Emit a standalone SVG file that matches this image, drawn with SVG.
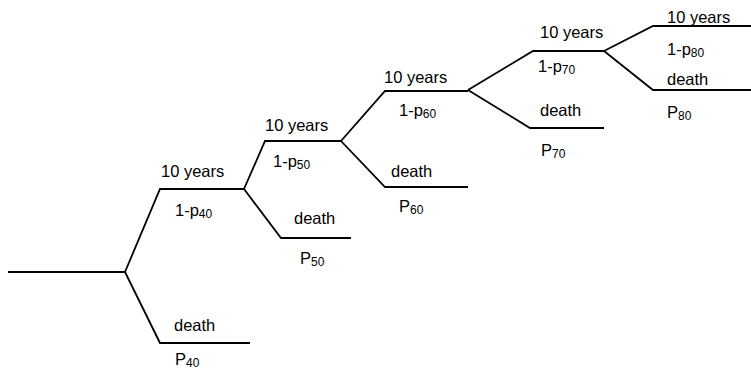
<svg xmlns="http://www.w3.org/2000/svg" width="751" height="372" viewBox="0 0 751 372">
<style>
.c{fill:none;stroke:#000;stroke-width:1.8;stroke-linejoin:miter}
text{font-family:"Liberation Sans",Arial,sans-serif;font-size:16.5px;fill:#000}
.s{font-size:12px}
</style>
<rect width="751" height="372" fill="#fff"/>
<g id="connectors">
<path class="c" d="M8,272 H125"/>
<path class="c" d="M125,272 L160,189 H244"/>
<path class="c" d="M125,272 L160,343 H250"/>
<path class="c" d="M244,189 L265,141 H341"/>
<path class="c" d="M244,189 L281,238 H351"/>
<path class="c" d="M341,141 L385,91 H468"/>
<path class="c" d="M341,141 L385,187 H468"/>
<path class="c" d="M468,90 L533,51 H604"/>
<path class="c" d="M468,90 L530,128 H604"/>
<path class="c" d="M604,51 L653,26 H751"/>
<path class="c" d="M604,51 L653,90 H751"/>
</g>
<g id="n40">
<text x="161" y="177">10 years</text>
<text x="175" y="216">1-p<tspan class="s" dy="2">40</tspan></text>
<text x="174" y="331">death</text>
<text x="175" y="365">P<tspan class="s" dy="1.5">40</tspan></text>
</g>
<g id="n50">
<text x="265" y="131">10 years</text>
<text x="273" y="167">1-p<tspan class="s" dy="2">50</tspan></text>
<text x="294" y="224">death</text>
<text x="300" y="264">P<tspan class="s" dy="2">50</tspan></text>
</g>
<g id="n60">
<text x="384" y="83">10 years</text>
<text x="399" y="116">1-p<tspan class="s" dy="2">60</tspan></text>
<text x="391" y="177">death</text>
<text x="399" y="212">P<tspan class="s" dy="2">60</tspan></text>
</g>
<g id="n70">
<text x="540" y="38">10 years</text>
<text x="538" y="72">1-p<tspan class="s" dy="2">70</tspan></text>
<text x="540" y="116">death</text>
<text x="541" y="156">P<tspan class="s" dy="2">70</tspan></text>
</g>
<g id="n80">
<text x="667" y="23">10 years</text>
<text x="667" y="55">1-p<tspan class="s" dy="2">80</tspan></text>
<text x="667" y="85">death</text>
<text x="667" y="118">P<tspan class="s" dy="2">80</tspan></text>
</g>
</svg>
